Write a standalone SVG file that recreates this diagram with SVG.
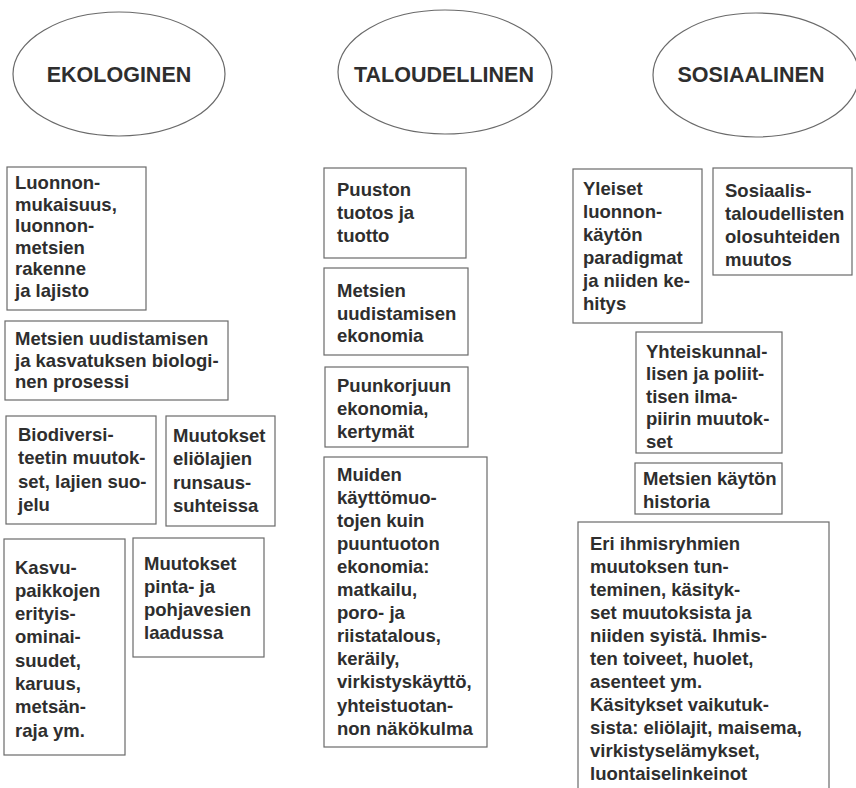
<svg xmlns="http://www.w3.org/2000/svg" width="856" height="788" viewBox="0 0 856 788">
<style>
.bg{fill:#fff}
.ell{fill:#fff;stroke:#6a6a6a;stroke-width:1.2}
.box{fill:#fff;stroke:#6a6a6a;stroke-width:1.2}
.title{font-family:"Liberation Sans",Arial,sans-serif;font-weight:bold;font-size:21.5px;fill:#2e2e2e;text-anchor:middle}
.t{font-family:"Liberation Sans",Arial,sans-serif;font-weight:bold;font-size:18.5px;fill:#2e2e2e}
</style>
<rect class="bg" x="0" y="0" width="856" height="788"/>
<g id="ekologinen">
<ellipse class="ell" cx="119" cy="74" rx="106" ry="62"/>
<text class="title" x="119" y="82">EKOLOGINEN</text>
</g>
<g id="taloudellinen">
<ellipse class="ell" cx="445" cy="72" rx="107" ry="62"/>
<text class="title" x="444" y="82">TALOUDELLINEN</text>
</g>
<g id="sosiaalinen">
<ellipse class="ell" cx="756" cy="75" rx="103" ry="62"/>
<text class="title" x="751" y="82">SOSIAALINEN</text>
</g>
<g id="l1">
<rect class="box" x="7" y="167" width="139" height="143"/>
<text class="t" x="15" y="189"><tspan x="15">Luonnon-</tspan><tspan x="15" dy="21.5">mukaisuus,</tspan><tspan x="15" dy="21.5">luonnon-</tspan><tspan x="15" dy="21.5">metsien</tspan><tspan x="15" dy="21.5">rakenne</tspan><tspan x="15" dy="21.5">ja lajisto</tspan></text>
</g>
<g id="l2">
<rect class="box" x="5" y="321" width="223" height="79"/>
<text class="t" x="15" y="345"><tspan x="15">Metsien uudistamisen</tspan><tspan x="15" dy="21.7">ja kasvatuksen biologi-</tspan><tspan x="15" dy="21.7">nen prosessi</tspan></text>
</g>
<g id="l3">
<rect class="box" x="6" y="416" width="150" height="108"/>
<text class="t" x="18" y="441"><tspan x="18">Biodiversi-</tspan><tspan x="18" dy="23.3">teetin muutok-</tspan><tspan x="18" dy="23.3">set, lajien suo-</tspan><tspan x="18" dy="23.3">jelu</tspan></text>
</g>
<g id="l4">
<rect class="box" x="166" y="416" width="109" height="110"/>
<text class="t" x="173" y="442"><tspan x="173">Muutokset</tspan><tspan x="173" dy="23.3">eliölajien</tspan><tspan x="173" dy="23.3">runsaus-</tspan><tspan x="173" dy="23.3">suhteissa</tspan></text>
</g>
<g id="l5">
<rect class="box" x="4" y="539" width="121" height="216"/>
<text class="t" x="15" y="573.5"><tspan x="15">Kasvu-</tspan><tspan x="15" dy="23.3">paikkojen</tspan><tspan x="15" dy="23.3">erityis-</tspan><tspan x="15" dy="23.3">ominai-</tspan><tspan x="15" dy="23.3">suudet,</tspan><tspan x="15" dy="23.3">karuus,</tspan><tspan x="15" dy="23.3">metsän-</tspan><tspan x="15" dy="23.3">raja ym.</tspan></text>
</g>
<g id="l6">
<rect class="box" x="133" y="538" width="131" height="119"/>
<text class="t" x="144" y="569.5"><tspan x="144">Muutokset</tspan><tspan x="144" dy="23.3">pinta- ja</tspan><tspan x="144" dy="23.3">pohjavesien</tspan><tspan x="144" dy="23.3">laadussa</tspan></text>
</g>
<g id="m1">
<rect class="box" x="324" y="168" width="142" height="90"/>
<text class="t" x="337" y="195.5"><tspan x="337">Puuston</tspan><tspan x="337" dy="23">tuotos ja</tspan><tspan x="337" dy="23">tuotto</tspan></text>
</g>
<g id="m2">
<rect class="box" x="324" y="268" width="144" height="87"/>
<text class="t" x="337" y="297"><tspan x="337">Metsien</tspan><tspan x="337" dy="22.5">uudistamisen</tspan><tspan x="337" dy="22.5">ekonomia</tspan></text>
</g>
<g id="m3">
<rect class="box" x="325" y="367" width="143" height="80"/>
<text class="t" x="337" y="392"><tspan x="337">Puunkorjuun</tspan><tspan x="337" dy="23">ekonomia,</tspan><tspan x="337" dy="23">kertymät</tspan></text>
</g>
<g id="m4">
<rect class="box" x="324" y="457" width="163" height="290"/>
<text class="t" x="337" y="480.5"><tspan x="337">Muiden</tspan><tspan x="337" dy="23.1">käyttömuo-</tspan><tspan x="337" dy="23.1">tojen kuin</tspan><tspan x="337" dy="23.1">puuntuoton</tspan><tspan x="337" dy="23.1">ekonomia:</tspan><tspan x="337" dy="23.1">matkailu,</tspan><tspan x="337" dy="23.1">poro- ja</tspan><tspan x="337" dy="23.1">riistatalous,</tspan><tspan x="337" dy="23.1">keräily,</tspan><tspan x="337" dy="23.1">virkistyskäyttö,</tspan><tspan x="337" dy="23.1">yhteistuotan-</tspan><tspan x="337" dy="23.1">non näkökulma</tspan></text>
</g>
<g id="r1">
<rect class="box" x="573" y="169" width="129" height="154"/>
<text class="t" x="583" y="195"><tspan x="583">Yleiset</tspan><tspan x="583" dy="23">luonnon-</tspan><tspan x="583" dy="23">käytön</tspan><tspan x="583" dy="23">paradigmat</tspan><tspan x="583" dy="23">ja niiden ke-</tspan><tspan x="583" dy="23">hitys</tspan></text>
</g>
<g id="r2">
<rect class="box" x="713" y="168" width="139" height="107"/>
<text class="t" x="725" y="197"><tspan x="725">Sosiaalis-</tspan><tspan x="725" dy="23">taloudellisten</tspan><tspan x="725" dy="23">olosuhteiden</tspan><tspan x="725" dy="23">muutos</tspan></text>
</g>
<g id="r3">
<rect class="box" x="636" y="332" width="146" height="121"/>
<text class="t" x="646" y="358"><tspan x="646">Yhteiskunnal-</tspan><tspan x="646" dy="22.4">lisen ja poliit-</tspan><tspan x="646" dy="22.4">tisen ilma-</tspan><tspan x="646" dy="22.4">piirin muutok-</tspan><tspan x="646" dy="22.4">set</tspan></text>
</g>
<g id="r4">
<rect class="box" x="635" y="463" width="147" height="51"/>
<text class="t" x="643" y="485"><tspan x="643">Metsien käytön</tspan><tspan x="643" dy="23">historia</tspan></text>
</g>
<g id="r5">
<rect class="box" x="578" y="522" width="251" height="280"/>
<text class="t" x="590" y="550"><tspan x="590">Eri ihmisryhmien</tspan><tspan x="590" dy="23">muutoksen tun-</tspan><tspan x="590" dy="23">teminen, käsityk-</tspan><tspan x="590" dy="23">set muutoksista ja</tspan><tspan x="590" dy="23">niiden syistä. Ihmis-</tspan><tspan x="590" dy="23">ten toiveet, huolet,</tspan><tspan x="590" dy="23">asenteet ym.</tspan><tspan x="590" dy="23">Käsitykset vaikutuk-</tspan><tspan x="590" dy="23">sista: eliölajit, maisema,</tspan><tspan x="590" dy="23">virkistyselämykset,</tspan><tspan x="590" dy="23">luontaiselinkeinot</tspan></text>
</g>
<g id="connectors"></g>
</svg>
